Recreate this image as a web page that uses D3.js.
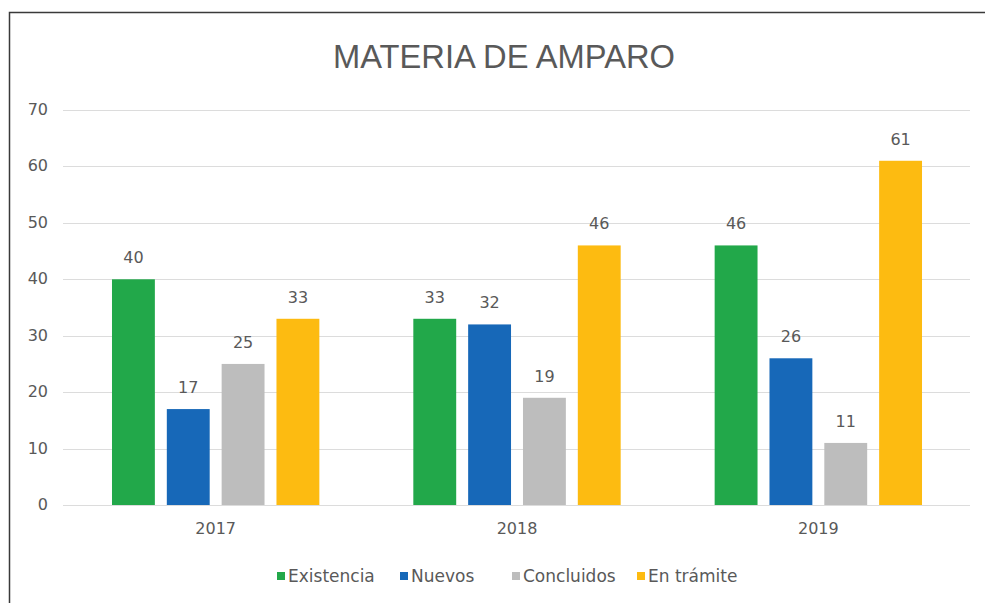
<!DOCTYPE html>
<html>
  <head>
    <meta charset="utf-8">
    <style>
      body { margin: 0; background: #fff; }
      text { font-family: 'DejaVu Sans', sans-serif; fill: #595959; }
      .title { font-family: 'Liberation Sans', Arial, sans-serif; }
      .grid line { stroke: #dcdcdc; stroke-width: 1px; }
      .label { font-size: 16px; }
      .tick-label { font-size: 16px; }
      .legend-label { font-size: 17px; }
    </style>
  </head>
  <body>
    <script src="https://d3js.org/d3.v7.min.js"></script>
    <script>
      var width = 985;
      var height = 603;

      // data
      var years = ["2017", "2018", "2019"];
      var series = ["Existencia", "Nuevos", "Concluidos", "En trámite"];
      var colors = ["#22a84a", "#1768b8", "#bdbdbd", "#fdbb11"];
      var existencia = [40, 33, 46];
      var nuevos = [17, 32, 26];
      var concluidos = [25, 19, 11];
      var enTramite = [33, 46, 61];
      var yTicks = [0, 10, 20, 30, 40, 50, 60, 70];

      var values = [existencia, nuevos, concluidos, enTramite];

      var svg = d3.select("body")
        .append("svg")
        .attr("width", width)
        .attr("height", height);

      // frame (only top and left edges show in the picture)
      svg.append("rect")
        .attr("x", 9.5)
        .attr("y", 12.5)
        .attr("width", 1000)
        .attr("height", 700)
        .attr("fill", "none")
        .attr("stroke", "#3a3a3a")
        .attr("stroke-width", 1.5);

      svg.append("text")
        .attr("class", "title")
        .attr("x", 504)
        .attr("y", 68)
        .attr("text-anchor", "middle")
        .attr("textLength", 342)
        .attr("lengthAdjust", "spacingAndGlyphs")
        .style("font-size", "34px")
        .text("MATERIA DE AMPARO");

      var x0 = d3.scaleBand()
        .domain(years)
        .range([65, 969]);

      var x1 = d3.scaleBand()
        .domain(series)
        .range([0, x0.bandwidth()])
        .paddingInner(0.218)
        .paddingOuter(0.857);

      var y = d3.scaleLinear()
        .domain([0, 70])
        .range([505, 110]);

      var grid = svg.append("g").attr("class", "grid");
      grid.selectAll("line")
        .data(yTicks)
        .enter().append("line")
        .attr("x1", 63)
        .attr("x2", 970)
        .attr("y1", function(d) { return Math.round(y(d)) + 0.5; })
        .attr("y2", function(d) { return Math.round(y(d)) + 0.5; });

      svg.append("g").selectAll("text")
        .data(yTicks)
        .enter().append("text")
        .attr("class", "tick-label")
        .attr("x", 48)
        .attr("y", function(d) { return y(d) + 5; })
        .attr("text-anchor", "end")
        .text(function(d) { return d; });

      svg.append("g").selectAll("text")
        .data(years)
        .enter().append("text")
        .attr("class", "tick-label")
        .attr("x", function(d) { return x0(d) + x0.bandwidth() / 2; })
        .attr("y", 534)
        .attr("text-anchor", "middle")
        .text(function(d) { return d; });

      var bars = [];
      years.forEach(function(yr, i) {
        series.forEach(function(s, j) {
          bars.push({ year: yr, series: s, value: values[j][i], color: colors[j] });
        });
      });

      svg.append("g").selectAll("rect")
        .data(bars)
        .enter().append("rect")
        .attr("x", function(d) { return x0(d.year) + x1(d.series); })
        .attr("y", function(d) { return y(d.value); })
        .attr("width", x1.bandwidth())
        .attr("height", function(d) { return y(0) - y(d.value); })
        .attr("fill", function(d) { return d.color; });

      svg.append("g").selectAll("text")
        .data(bars)
        .enter().append("text")
        .attr("class", "label")
        .attr("x", function(d) { return x0(d.year) + x1(d.series) + x1.bandwidth() / 2; })
        .attr("y", function(d) { return y(d.value) - 16; })
        .attr("text-anchor", "middle")
        .text(function(d) { return d.value; });

      // legend
      var legendX = [277, 400, 512, 637];
      var legend = svg.append("g").selectAll("g")
        .data(series)
        .enter().append("g")
        .attr("transform", function(d, i) { return "translate(" + legendX[i] + ",576)"; });

      legend.append("rect")
        .attr("x", 0)
        .attr("y", -4)
        .attr("width", 8)
        .attr("height", 8)
        .attr("fill", function(d, i) { return colors[i]; });

      legend.append("text")
        .attr("class", "legend-label")
        .attr("x", 11)
        .attr("y", 6)
        .text(function(d) { return d; });
    </script>
  </body>
</html>
